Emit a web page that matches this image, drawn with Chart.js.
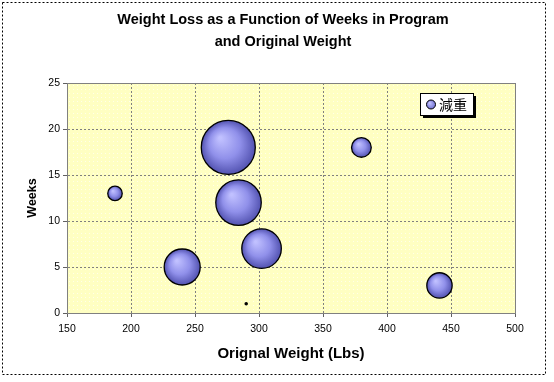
<!DOCTYPE html>
<html>
<head>
<meta charset="utf-8">
<script src="https://cdn.jsdelivr.net/npm/chart.js@4"></script>
<style>
html,body{margin:0;padding:0;background:#fff;}
#wrap{width:554px;height:382px;}
</style>
</head>
<body>
<div id="wrap"><canvas id="c" width="554" height="382"></canvas></div>
<script>
// Data
const seriesLabel = '減重';
const originalWeight = [187.5, 276, 284, 302, 240, 380, 441, 290];
const weeksInProgram = [13, 18, 12, 7, 5, 18, 3, 1];
const weightLost = [4.3, 60, 42.6, 32.2, 26.7, 8, 13.2, 0.1];
const xTicks = [150, 200, 250, 300, 350, 400, 450, 500];
const yTicks = [0, 5, 10, 15, 20, 25];
const titleLines = ['Weight Loss as a Function of Weeks in Program', 'and Original Weight'];
const xTitle = 'Orignal Weight (Lbs)';
const yTitle = 'Weeks';

const MAX_R = 27;
const maxLoss = Math.max(...weightLost);
const radiusOf = (v) => MAX_R * Math.sqrt(v / maxLoss);

const points = originalWeight.map((w, i) => ({x: w, y: weeksInProgram[i], r: radiusOf(weightLost[i]), v: weightLost[i]}));

const FONT = "'Liberation Sans', Arial, sans-serif";

function bubbleFill(ctx) {
  if (ctx.type !== 'data' || !ctx.raw) return '#9494EE';
  const chart = ctx.chart;
  const xs = chart.scales.x, ys = chart.scales.y;
  if (!xs || !ys) return '#9494EE';
  const px = xs.getPixelForValue(ctx.raw.x), py = ys.getPixelForValue(ctx.raw.y);
  const r = ctx.raw.r;
  if (!isFinite(px) || !isFinite(py) || !isFinite(r)) return '#9494EE';
  if (r < 2) return '#000000';
  const g = chart.ctx.createRadialGradient(px - r * 0.3, py - r * 0.35, r * 0.05, px, py, r);
  g.addColorStop(0, '#C0C0FF');
  g.addColorStop(0.55, '#9090EA');
  g.addColorStop(1, '#5252B0');
  return g;
}

// pattern for plot background
function makePattern(ctx) {
  const p = document.createElement('canvas');
  p.width = 4; p.height = 4;
  const pc = p.getContext('2d');
  pc.fillStyle = '#FFFFC2';
  pc.fillRect(0, 0, 4, 4);
  pc.fillStyle = '#FFFFEA';
  pc.fillRect(1, 1, 1, 1);
  return ctx.createPattern(p, 'repeat');
}

const decor = {
  id: 'decor',
  beforeDraw(chart) {
    const {ctx, chartArea: a} = chart;
    ctx.save();
    ctx.fillStyle = '#ffffff';
    ctx.fillRect(0, 0, chart.width, chart.height);
    ctx.fillStyle = makePattern(ctx);
    ctx.fillRect(a.left, a.top, a.right - a.left, a.bottom - a.top);
    ctx.restore();
  },
  afterDatasetsDraw(chart) {
    const {ctx, chartArea: a} = chart;
    ctx.save();
    ctx.strokeStyle = '#808080';
    ctx.lineWidth = 1;
    ctx.setLineDash([]);
    ctx.strokeRect(Math.round(a.left) + 0.5, Math.round(a.top) + 0.5, Math.round(a.right - a.left), Math.round(a.bottom - a.top));
    ctx.restore();
  },
  afterDraw(chart) {
    const {ctx} = chart;
    ctx.save();
    // outer dotted border
    ctx.strokeStyle = '#000';
    ctx.lineWidth = 1;
    ctx.setLineDash([2, 2]);
    ctx.strokeRect(2.5, 2.5, 543, 372);
    ctx.setLineDash([]);
    // legend
    const lx = 420, ly = 93, lw = 53, lh = 22;
    ctx.fillStyle = '#000';
    ctx.fillRect(lx + 3, ly + 3, lw, lh);
    ctx.fillStyle = '#fff';
    ctx.fillRect(lx, ly, lw, lh);
    ctx.strokeStyle = '#000';
    ctx.strokeRect(lx + 0.5, ly + 0.5, lw, lh);
    const cx = lx + 11, cy = ly + 11.5;
    const g = ctx.createRadialGradient(cx - 1.5, cy - 1.5, 0.5, cx, cy, 4.5);
    g.addColorStop(0, '#C0C0FF');
    g.addColorStop(1, '#7070D0');
    ctx.beginPath();
    ctx.arc(cx, cy, 4.5, 0, Math.PI * 2);
    ctx.fillStyle = g;
    ctx.fill();
    ctx.lineWidth = 1;
    ctx.strokeStyle = '#000';
    ctx.stroke();
    ctx.fillStyle = '#000';
    ctx.font = "14px 'Noto Sans CJK TC', 'Noto Sans CJK SC', sans-serif";
    ctx.textBaseline = 'middle';
    ctx.textAlign = 'left';
    ctx.fillText(chart.data.datasets[0].label, lx + 19, cy + 0.5);
    ctx.restore();
  }
};

new Chart(document.getElementById('c'), {
  type: 'bubble',
  data: {
    datasets: [{
      label: seriesLabel,
      data: points,
      backgroundColor: bubbleFill,
      borderColor: '#000000',
      borderWidth: 1.3,
      hoverRadius: 0
    }]
  },
  options: {
    responsive: false,
    animation: false,
    events: [],
    layout: {padding: {left: 12, right: 0, top: 0, bottom: 0}},
    plugins: {
      legend: {display: false},
      tooltip: {enabled: false},
      title: {
        display: true,
        text: titleLines,
        color: '#000',
        font: {family: FONT, size: 14.5, weight: 'bold', lineHeight: '22px'},
        padding: {top: 9, bottom: 30}
      }
    },
    scales: {
      x: {
        type: 'linear',
        min: xTicks[0],
        max: xTicks[xTicks.length - 1],
        afterBuildTicks(s) { s.ticks = xTicks.map(v => ({value: v})); },
        afterFit(s) { s.height = 382 - 313; },
        ticks: {color: '#000', font: {family: FONT, size: 10.5}, padding: 6, maxRotation: 0},
        grid: {color: '#808080', borderDash: [2, 2], lineWidth: 1, tickLength: 4, tickColor: '#606060', tickBorderDash: []},
        border: {display: true, color: '#808080', dash: [2, 2]},
        title: {display: true, text: xTitle, color: '#000', font: {family: FONT, size: 15, weight: 'bold'}, padding: {top: 0, bottom: 19}}
      },
      y: {
        type: 'linear',
        min: yTicks[0],
        max: yTicks[yTicks.length - 1],
        afterBuildTicks(s) { s.ticks = yTicks.map(v => ({value: v})); },
        afterFit(s) { s.width = 55; },
        ticks: {color: '#000', font: {family: FONT, size: 10.5}, padding: 3},
        grid: {color: '#808080', borderDash: [2, 2], lineWidth: 1, tickLength: 4, tickColor: '#606060', tickBorderDash: []},
        border: {display: true, color: '#808080', dash: [2, 2]},
        title: {display: true, text: yTitle, color: '#000', font: {family: FONT, size: 12.5, weight: 'bold'}, padding: {top: 13, bottom: 0}}
      },
      yPad: {
        type: 'linear',
        position: 'right',
        display: true,
        min: 0,
        max: 1,
        afterFit(s) { s.width = 39; },
        ticks: {display: false},
        grid: {display: false, drawTicks: false},
        border: {display: false},
        title: {display: false}
      }
    }
  },
  plugins: [decor]
});
</script>
</body>
</html>
